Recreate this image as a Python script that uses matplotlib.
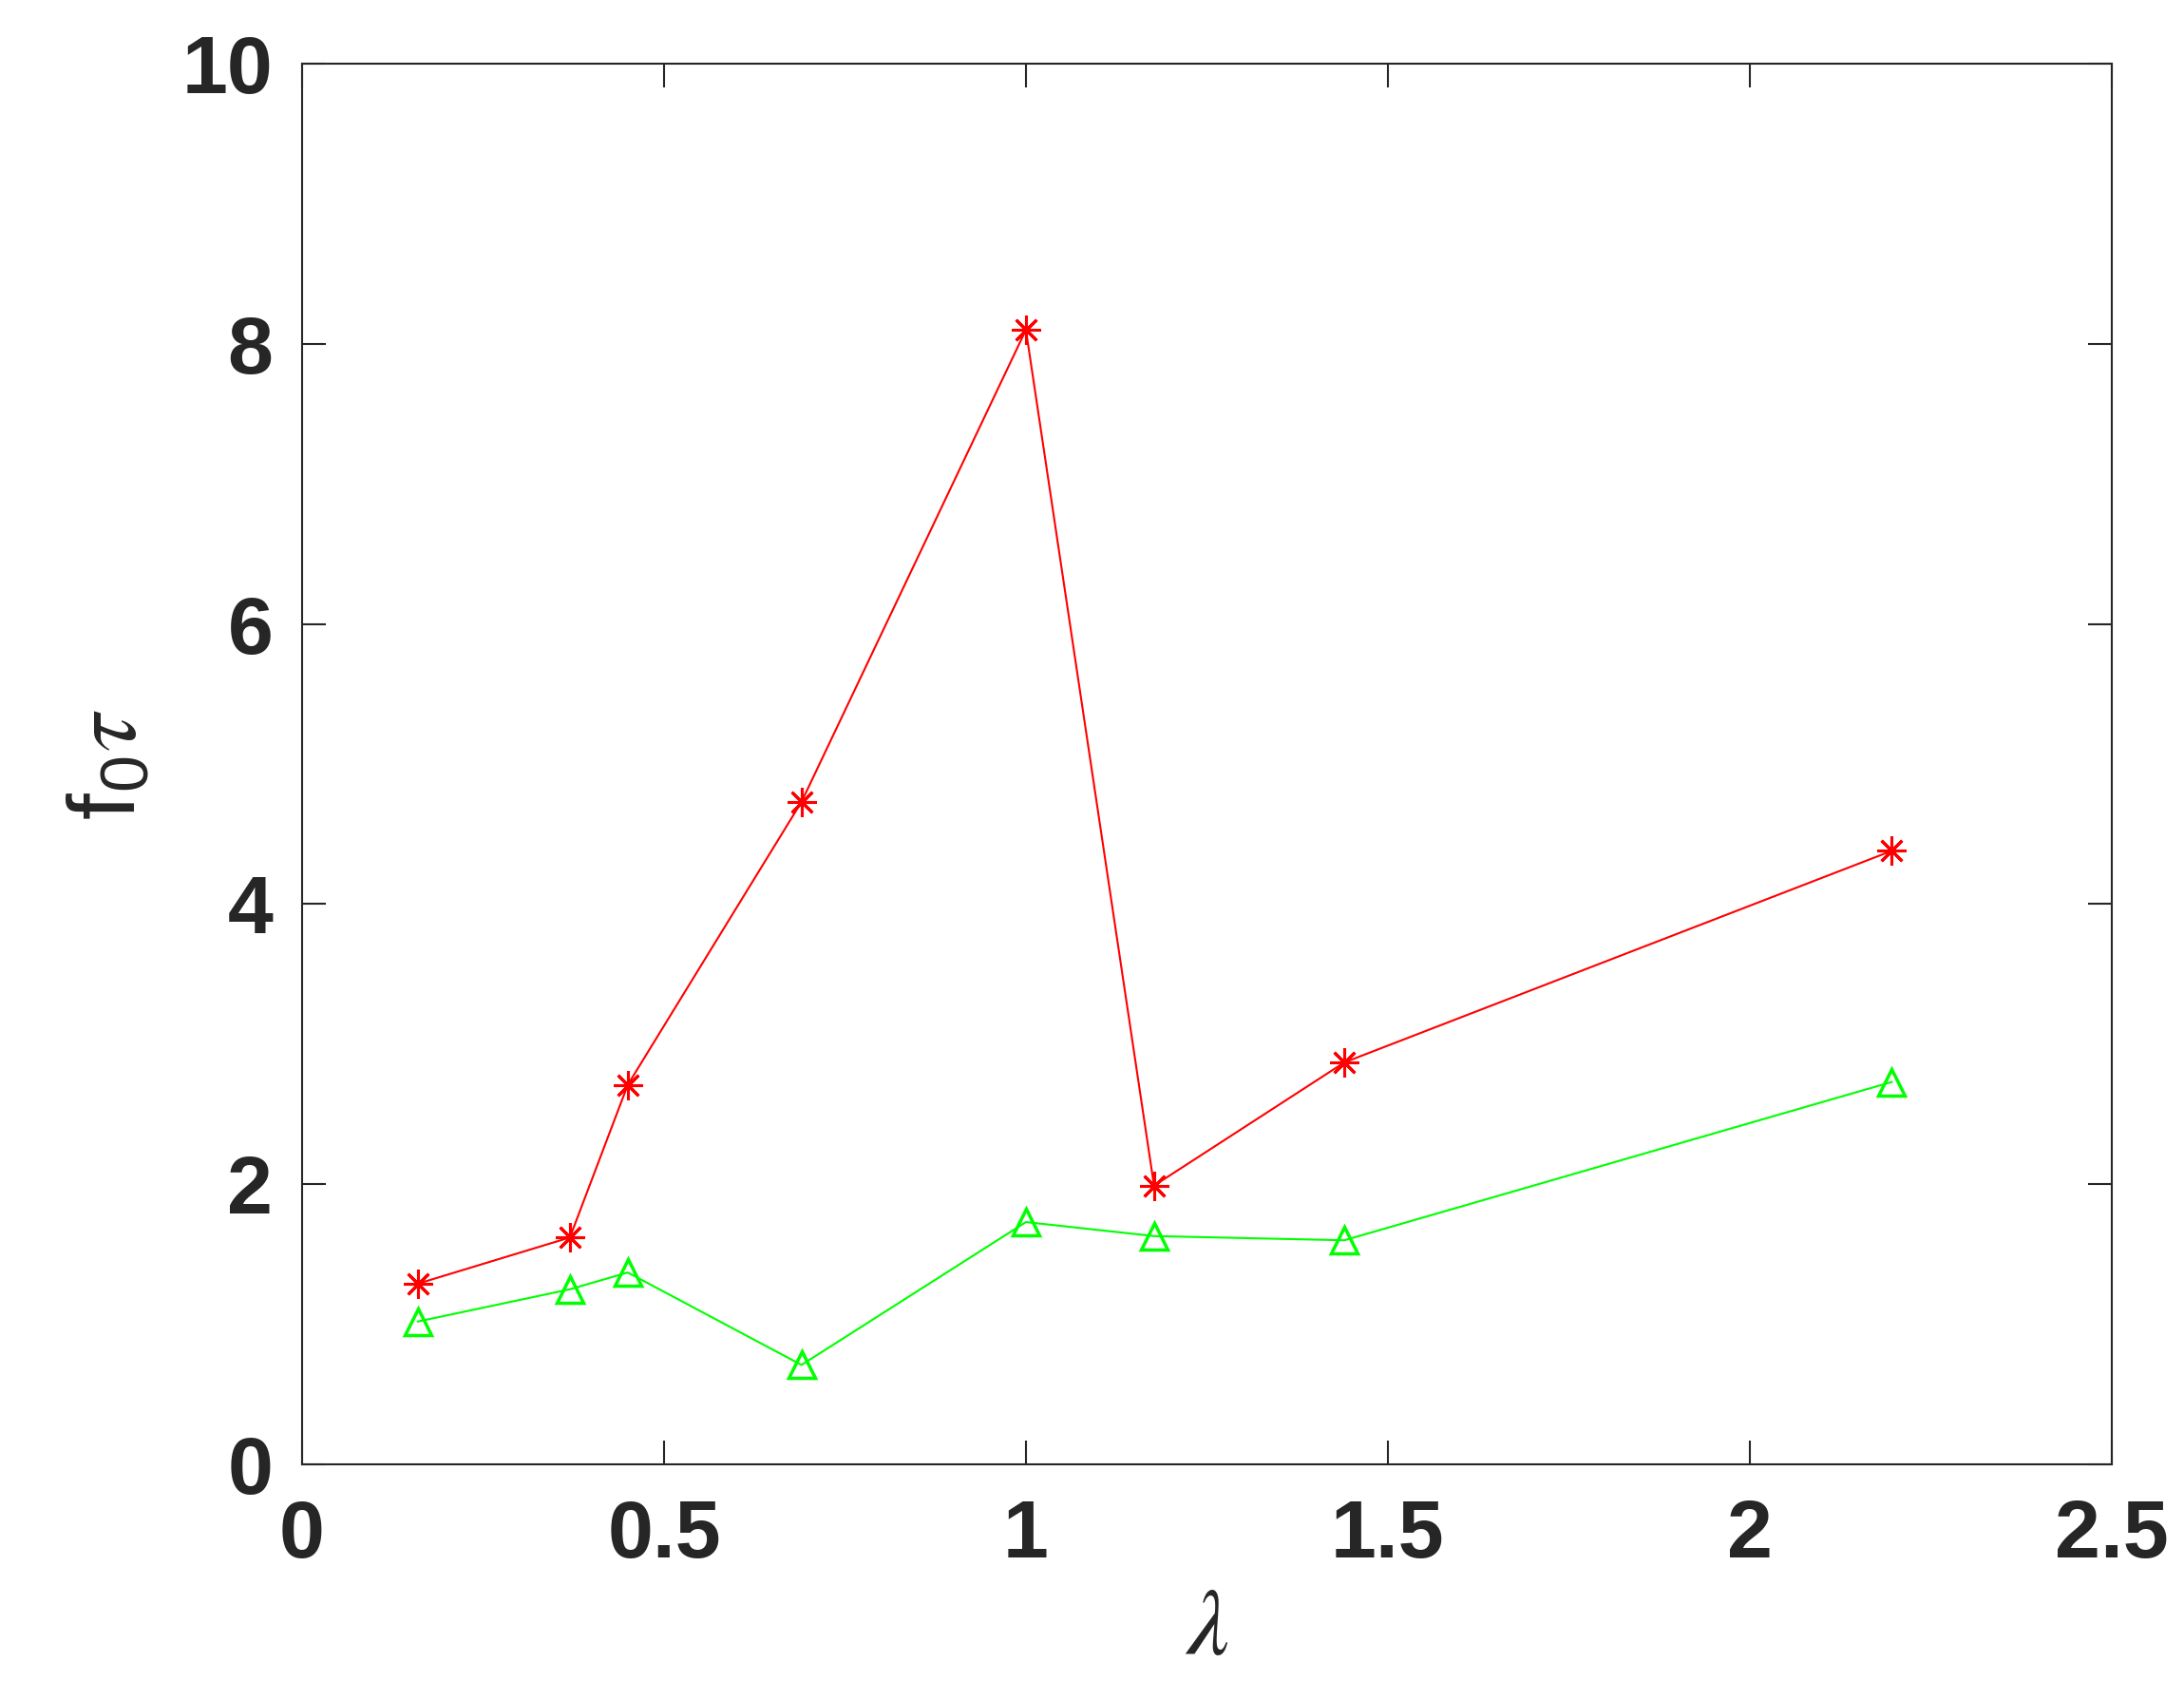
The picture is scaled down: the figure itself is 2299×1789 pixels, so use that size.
import matplotlib
matplotlib.use("Agg")
import matplotlib.pyplot as plt

# data
lam = [0.16, 0.37, 0.45, 0.69, 1.0, 1.177, 1.44, 2.196]
f0tau_red = [1.29, 1.62, 2.71, 4.73, 8.10, 1.99, 2.87, 4.38]
f0tau_green = [1.02, 1.25, 1.37, 0.71, 1.73, 1.63, 1.60, 2.73]

xticks = [0, 0.5, 1, 1.5, 2, 2.5]
xtick_labels = ["0", "0.5", "1", "1.5", "2", "2.5"]
yticks = [0, 2, 4, 6, 8, 10]
ytick_labels = ["0", "2", "4", "6", "8", "10"]

plt.rcParams['font.family'] = ['Liberation Sans', 'DejaVu Sans']
plt.rcParams['mathtext.fontset'] = 'custom'
plt.rcParams['mathtext.rm'] = 'Liberation Sans'
plt.rcParams['mathtext.it'] = 'STIXGeneral:italic'

fig = plt.figure(figsize=(22.99, 17.89), dpi=100)
ax = fig.add_axes([0.1383, 0.1386, 0.9669 - 0.1383, 0.9625 - 0.1386])

dark = '#262626'

ax.plot(lam, f0tau_red, color='red', linewidth=1.5, marker=(8, 2, 0),
        markersize=22, markeredgewidth=2.2)
ax.plot(lam, f0tau_green, color='#00ff00', linewidth=1.5, marker='^',
        markersize=20, markerfacecolor='none', markeredgewidth=2.5)

ax.set_xlim(0, 2.5)
ax.set_ylim(0, 10)
ax.set_xticks(xticks)
ax.set_xticklabels(xtick_labels)
ax.set_yticks(yticks)
ax.set_yticklabels(ytick_labels)

ax.tick_params(direction='in', length=18, width=1.5, colors=dark,
               top=True, right=True, labelsize=62)
ax.tick_params(axis='x', pad=26)
ax.tick_params(axis='y', pad=22)
for lbl in ax.get_xticklabels() + ax.get_yticklabels():
    lbl.set_fontweight('bold')
for spine in ax.spines.values():
    spine.set_edgecolor(dark)
    spine.set_linewidth(1.5)

ax.set_xlabel(r'$\lambda$', fontsize=72, color=dark, labelpad=8)
ax.set_ylabel(r'f$_0\tau$', fontsize=72, color=dark, labelpad=20)

fig.savefig("out.png", dpi=100)
